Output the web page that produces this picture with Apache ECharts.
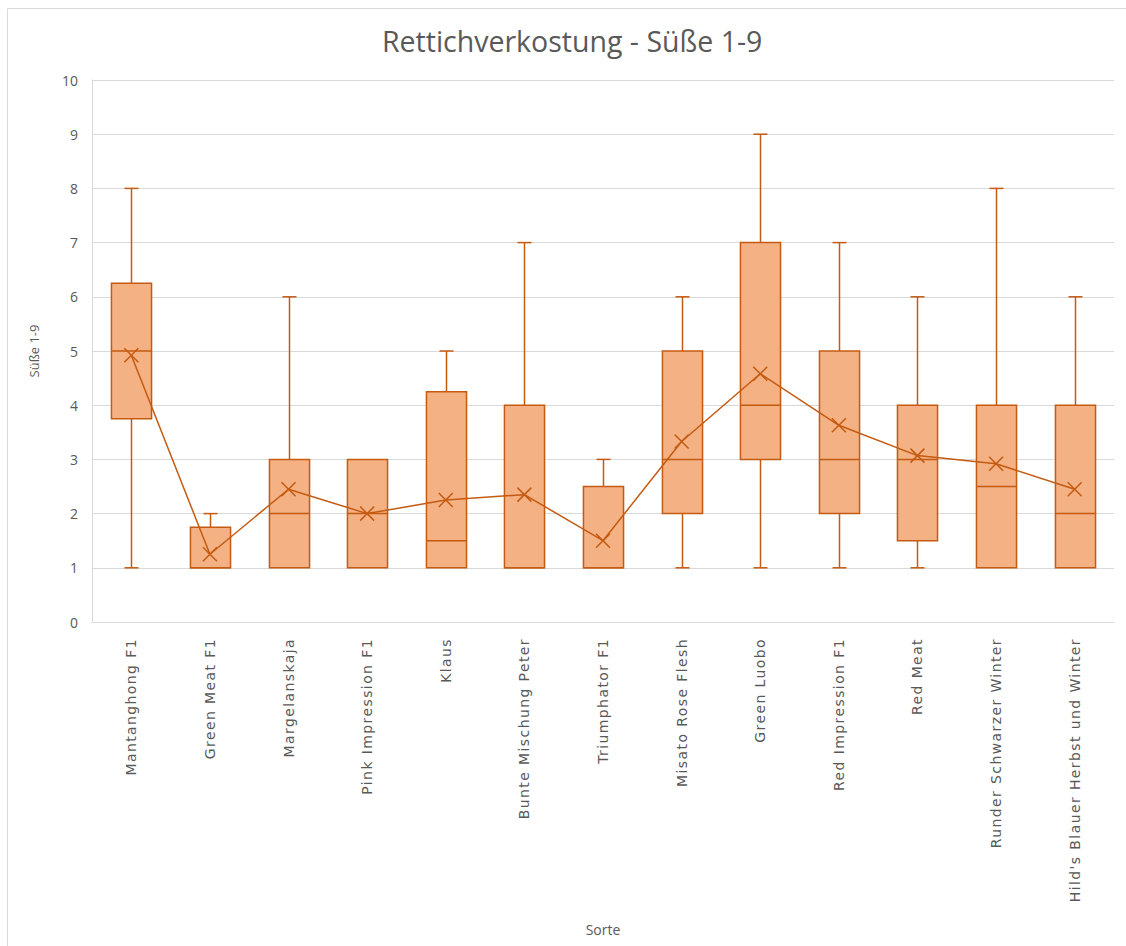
<!DOCTYPE html>
<html>
<head>
<meta charset="utf-8">
<script src="https://cdn.jsdelivr.net/npm/echarts@6/dist/echarts.min.js"></script>
<style>
html,body{margin:0;padding:0;background:#fff;}
#c{width:1126px;height:946px;}
#c text[style*="DejaVu"]{letter-spacing:1.4px;}
</style>
</head>
<body>
<div id="c"></div>
<script>
const categories = ["Mantanghong F1","Green Meat F1","Margelanskaja","Pink Impression F1","Klaus","Bunte Mischung Peter","Triumphator F1","Misato Rose Flesh","Green Luobo","Red Impression F1","Red Meat","Runder Schwarzer Winter","Hild's Blauer Herbst und Winter"];
const minValues    = [1, 1, 1, 1, 1,    1, 1,   1, 1, 1, 1,   1,   1];
const q1Values     = [3.75, 1, 1, 1, 1, 1, 1,   2, 3, 2, 1.5, 1,   1];
const medianValues = [5, 1, 2, 2, 1.5,  1, 1,   3, 4, 3, 3,   2.5, 2];
const q3Values     = [6.25, 1.75, 3, 3, 4.25, 4, 2.5, 5, 7, 5, 4, 4, 4];
const maxValues    = [8, 2, 6, 3, 5,    7, 3,   6, 9, 7, 6,   8,   6];
const meanValues   = [4.92, 1.25, 2.45, 2.0, 2.25, 2.35, 1.5, 3.33, 4.58, 3.63, 3.07, 2.92, 2.45];
const yTicks = [0,1,2,3,4,5,6,7,8,9,10];

const boxData = categories.map((c,i)=>[i, minValues[i], q1Values[i], medianValues[i], q3Values[i], maxValues[i]]);
const ORANGE = '#C55A11';
const FILL = '#F4B183';

const chart = echarts.init(document.getElementById('c'), null, {renderer:'svg'});
chart.setOption({
  backgroundColor:'#fff',
  animation:false,
  title:{
    text:'Rettichverkostung - Süße 1-9',
    left:377, top:21,
    textStyle:{fontFamily:'Open Sans', fontWeight:'normal', fontSize:28.5, color:'#595959'}
  },
  graphic:[
    {type:'rect', shape:{x:7.5,y:8.5,width:1130,height:940}, style:{fill:'none', stroke:'#D9D9D9', lineWidth:1}, silent:true}
  ],
  grid:{left:92, right:12, top:80, bottom:324},
  xAxis:{
    type:'category',
    data:categories,
    name:'Sorte',
    nameLocation:'middle',
    nameGap:300,
    nameTextStyle:{fontFamily:'Open Sans', fontSize:14, color:'#595959'},
    axisLine:{show:true, lineStyle:{color:'#D9D9D9'}},
    axisTick:{show:false},
    axisLabel:{rotate:90, interval:0, margin:16, fontFamily:'DejaVu Sans', fontSize:14, color:'#595959'},
    splitLine:{show:false}
  },
  yAxis:{
    type:'value',
    min:yTicks[0], max:yTicks[yTicks.length-1], interval:1,
    name:'Süße 1-9',
    nameLocation:'middle',
    nameGap:52,
    nameRotate:90,
    nameTextStyle:{fontFamily:'Open Sans', fontSize:13, color:'#595959'},
    axisLine:{show:true, lineStyle:{color:'#D9D9D9'}},
    axisTick:{show:false},
    axisLabel:{margin:14, fontFamily:'Open Sans', fontSize:14, color:'#595959'},
    splitLine:{show:true, lineStyle:{color:'#D9D9D9', width:1}}
  },
  series:[
    {
      type:'custom',
      z:2,
      data:boxData,
      encode:{x:0, y:[1,2,3,4,5]},
      renderItem:function(params, api){
        const idx = api.value(0);
        const pMin = api.coord([idx, api.value(1)]);
        const pQ1 = api.coord([idx, api.value(2)]);
        const pMed = api.coord([idx, api.value(3)]);
        const pQ3 = api.coord([idx, api.value(4)]);
        const pMax = api.coord([idx, api.value(5)]);
        const band = api.size([1,0])[0];
        const bw = band*0.51;
        const cw = 14;
        const x = Math.round(pMed[0])+0.5;
        const st = {stroke:ORANGE, lineWidth:1.5, fill:null};
        const children = [];
        if (pMax[1] < pQ3[1]-0.5) {
          children.push({type:'line', shape:{x1:x,y1:pQ3[1],x2:x,y2:pMax[1]}, style:st});
          children.push({type:'line', shape:{x1:x-cw/2,y1:pMax[1],x2:x+cw/2,y2:pMax[1]}, style:st});
        }
        if (pMin[1] > pQ1[1]+0.5) {
          children.push({type:'line', shape:{x1:x,y1:pQ1[1],x2:x,y2:pMin[1]}, style:st});
          children.push({type:'line', shape:{x1:x-cw/2,y1:pMin[1],x2:x+cw/2,y2:pMin[1]}, style:st});
        }
        children.push({type:'rect', shape:{x:x-bw/2, y:pQ3[1], width:bw, height:pQ1[1]-pQ3[1]}, style:{fill:FILL, stroke:ORANGE, lineWidth:1.5}});
        children.push({type:'line', shape:{x1:x-bw/2,y1:pMed[1],x2:x+bw/2,y2:pMed[1]}, style:st});
        return {type:'group', children:children};
      }
    },
    {
      type:'line',
      z:5,
      data:meanValues,
      symbol:'path://M0,0L10,10M10,0L0,10',
      symbolSize:14,
      showAllSymbol:true,
      itemStyle:{color:ORANGE, borderColor:ORANGE, borderWidth:1.5},
      lineStyle:{color:ORANGE, width:1.5}
    }
  ]
});
</script>
</body>
</html>
